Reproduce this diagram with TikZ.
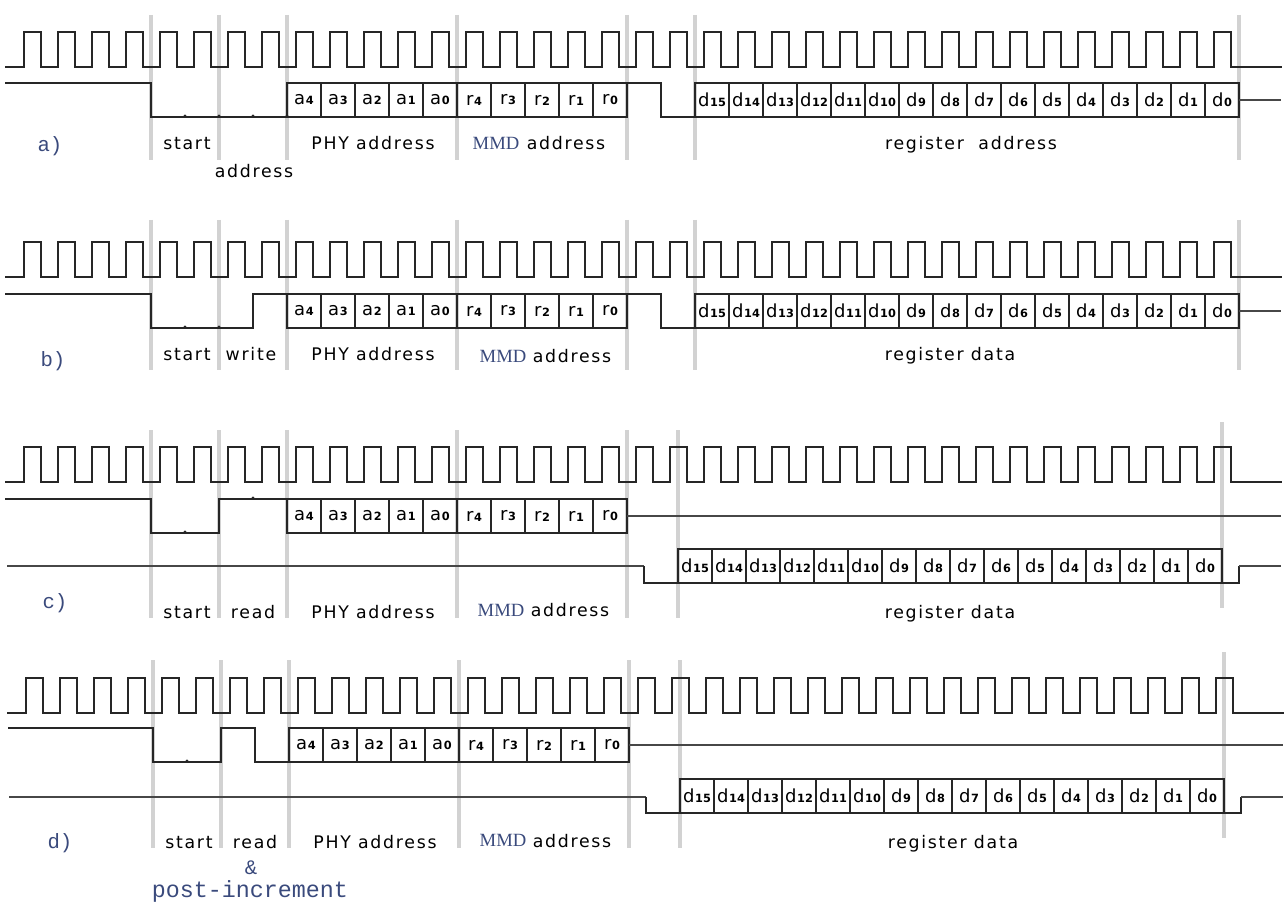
\documentclass[tikz,border=0pt]{standalone}
\usepackage{fontspec}
\usepackage{xcolor}
\setmainfont{DejaVu Sans}
\newfontfamily\lblfont[LetterSpace=10]{DejaVu Sans}
\newfontfamily\serfont{Liberation Serif}
\newfontfamily\monfont{Liberation Mono}
\definecolor{navy}{HTML}{3A4A7C}
\definecolor{guidegray}{HTML}{D2D2D2}
\definecolor{traceink}{HTML}{262626}
\newcommand{\bitname}[2]{\makebox[0pt]{\fontsize{13.5}{13}\selectfont #1\kern0.5pt{\fontsize{8.5}{8}\selectfont\bfseries #2}}}
% clock: x shift, y high
\newcommand{\clocktrace}[2]{
  \draw[trace] ({5+#1},#2+35) \foreach \k in {0,...,35} {
      -- ({24+#1+34*\k},#2+35) -- ({24+#1+34*\k},#2) -- ({41+#1+34*\k},#2) -- ({41+#1+34*\k},#2+35) }
    -- ({1282+#1},#2+35);
}
% row of bit cells: name prefix, left x, y centre, list
\newcommand{\bitrow}[4]{
  \foreach \l/\n [count=\i from 0] in {#4}
    \node[cell] (#1\l\n) at ({#2+17+34*\i},#3) {\bitname{\l}{\n}};
}
\begin{document}
\begin{tikzpicture}[
    x=0.75pt, y=-0.75pt,
    trace/.style={line width=1.7pt, draw=traceink},
    thinline/.style={line width=0.9pt, draw=traceink!85},
    guide/.style={line width=2.3pt, draw=guidegray},
    cell/.style={rectangle, draw=traceink, line width=1.7pt, inner sep=0pt, outer sep=0pt,
                 minimum width=25.5pt, minimum height=25.5pt, anchor=center},
    lbl/.style={anchor=base, inner sep=0pt, font=\lblfont\fontsize{13}{13}\selectfont},
    mmd/.style={anchor=base, inner sep=0pt, text=navy, font=\serfont\fontsize{14}{14}\selectfont},
    tag/.style={anchor=base, inner sep=0pt, text=navy, font=\monfont\fontsize{15.5}{16}\selectfont},
    tick/.style={fill=traceink, inner sep=0pt, minimum size=2.5pt, circle}
  ]
  \useasboundingbox (0,0) rectangle (1285,902);

  % guides
  \foreach \x in {151,219,287,457,627,695,1239} \draw[guide] (\x,15) -- (\x,160);
  \foreach \x in {151,219,287,457,627,695,1239} \draw[guide] (\x,220) -- (\x,370);
  \foreach \x in {151,219,287,457,627,678} \draw[guide] (\x,430) -- (\x,618);
  \draw[guide] (1222,422) -- (1222,608);
  \foreach \x in {153,221,289,459,629,680} \draw[guide] (\x,660) -- (\x,848);
  \draw[guide] (1224,652) -- (1224,838);

  % a)
  \clocktrace{0}{32}
  \draw[trace] (5,83) -- (151,83) -- (151,117) -- (287,117);
  \bitrow{pa}{287}{100}{a/4,a/3,a/2,a/1,a/0,r/4,r/3,r/2,r/1,r/0}
  \draw[trace] (par0.north east) -- (661,83) -- (661,117) -- (695,117);
  \bitrow{da}{695}{100}{d/15,d/14,d/13,d/12,d/11,d/10,d/9,d/8,d/7,d/6,d/5,d/4,d/3,d/2,d/1,d/0}
  \coordinate (tailA) at (1281,100);
  \draw[thinline] (dad0) -- (tailA);
  \foreach \x in {185,219,253,287} \node[tick] (ta\x) at (\x,116) {};
  \node[tag] (tagA) at (50,152) {a)};
  \node[lbl] (startA) at (187,150) {start};
  \node[lbl] (addrA) at (254,178) {address};
  \node[lbl] (phyA) at (373,150) {PHY address};
  \node[mmd] (mmdA) at (496,150) {MMD};
  \node[lbl] (mmdaddrA) at (566,150) {address};
  \node[lbl] (regA) at (971,150) {register\ \ address};

  % b)
  \clocktrace{0}{242}
  \draw[trace] (5,294) -- (151,294) -- (151,328) -- (253,328) -- (253,294) -- (287,294);
  \bitrow{pb}{287}{311}{a/4,a/3,a/2,a/1,a/0,r/4,r/3,r/2,r/1,r/0}
  \draw[trace] (pbr0.north east) -- (661,294) -- (661,328) -- (695,328);
  \bitrow{db}{695}{311}{d/15,d/14,d/13,d/12,d/11,d/10,d/9,d/8,d/7,d/6,d/5,d/4,d/3,d/2,d/1,d/0}
  \coordinate (tailB) at (1281,311);
  \draw[thinline] (dbd0) -- (tailB);
  \foreach \x in {185,219} \node[tick] (tb\x) at (\x,327) {};
  \node[tag] (tagB) at (53,366) {b)};
  \node[lbl] (startB) at (187,360) {start};
  \node[lbl] (writeB) at (251,360) {write};
  \node[lbl] (phyB) at (373,360) {PHY address};
  \node[mmd] (mmdB) at (503,362) {MMD};
  \node[lbl] (mmdaddrB) at (572,362) {address};
  \node[lbl] (regB) at (950,360) {register data};

  % c)
  \clocktrace{0}{447}
  \draw[trace] (5,499) -- (151,499) -- (151,533) -- (219,533) -- (219,499) -- (287,499);
  \bitrow{pc}{287}{516}{a/4,a/3,a/2,a/1,a/0,r/4,r/3,r/2,r/1,r/0}
  \coordinate (tailC) at (1281,516);
  \draw[thinline] (pcr0) -- (tailC);
  \coordinate (inC) at (7,566);
  \coordinate (dropC) at (644,566);
  \coordinate (riseC) at (1239,583);
  \coordinate (endC) at (1281,566);
  \draw[thinline] (inC) -- (dropC);
  \draw[trace] (dropC) -- (644,583) -- (678,583);
  \bitrow{dc}{678}{566}{d/15,d/14,d/13,d/12,d/11,d/10,d/9,d/8,d/7,d/6,d/5,d/4,d/3,d/2,d/1,d/0}
  \draw[trace] (dcd0.south east) -- (riseC) -- (1239,566);
  \draw[thinline] (1239,566) -- (endC);
  \node[tick] (tc185) at (185,532) {};
  \node[tick] (tc253) at (253,498) {};
  \node[tag] (tagC) at (55,608) {c)};
  \node[lbl] (startC) at (187,618) {start};
  \node[lbl] (readC) at (253,618) {read};
  \node[lbl] (phyC) at (373,618) {PHY address};
  \node[mmd] (mmdC) at (501,616) {MMD};
  \node[lbl] (mmdaddrC) at (570,616) {address};
  \node[lbl] (regC) at (950,618) {register data};

  % d)
  \clocktrace{2}{678}
  \draw[trace] (8,728) -- (153,728) -- (153,762) -- (221,762) -- (221,728) -- (255,728) -- (255,762) -- (289,762);
  \bitrow{pd}{289}{745}{a/4,a/3,a/2,a/1,a/0,r/4,r/3,r/2,r/1,r/0}
  \coordinate (tailD) at (1283,745);
  \draw[thinline] (pdr0) -- (tailD);
  \coordinate (inD) at (9,797);
  \coordinate (dropD) at (646,797);
  \coordinate (riseD) at (1241,813);
  \coordinate (endD) at (1283,797);
  \draw[thinline] (inD) -- (dropD);
  \draw[trace] (dropD) -- (646,813) -- (680,813);
  \bitrow{dd}{680}{796}{d/15,d/14,d/13,d/12,d/11,d/10,d/9,d/8,d/7,d/6,d/5,d/4,d/3,d/2,d/1,d/0}
  \draw[trace] (ddd0.south east) -- (riseD) -- (1241,797);
  \draw[thinline] (1241,797) -- (endD);
  \node[tick] (td187) at (187,761) {};
  \node[tag] (tagD) at (60,848) {d)};
  \node[lbl] (startD) at (189,848) {start};
  \node[lbl] (readD) at (255,848) {read};
  \node[lbl] (phyD) at (375,848) {PHY address};
  \node[mmd] (mmdD) at (503,846) {MMD};
  \node[lbl] (mmdaddrD) at (572,847) {address};
  \node[lbl] (regD) at (953,848) {register data};
  \node[tag] (ampD) at (251,874) {\&};
  \node[tag,font=\monfont\fontsize{17.5}{18}\selectfont] (postD) at (250,897) {post-increment};
\end{tikzpicture}
\end{document}
